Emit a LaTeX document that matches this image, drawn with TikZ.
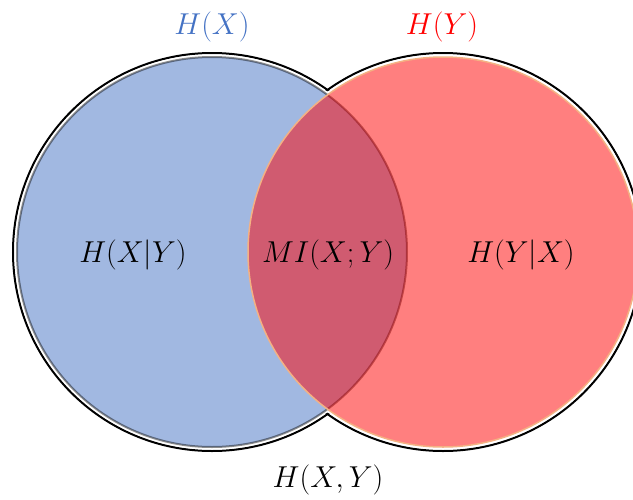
\documentclass[tikz,border=0pt]{standalone}
\definecolor{hxblue}{HTML}{4472C4}
\definecolor{hyorange}{HTML}{F4B183}
\begin{document}
\begin{tikzpicture}[x=1pt,y=-1pt,
  lbl/.style={font=\LARGE, scale=1.75, inner sep=0pt},
  setc/.style={circle, minimum size=390pt, inner sep=0pt}]
\useasboundingbox (0,0) rectangle (633,499);
% outer outline of the union
\node[setc, minimum size=398pt, draw=black, line width=2pt] (ox) at (212,252) {};
\node[setc, minimum size=398pt, draw=black, line width=2pt] (oy) at (443,252) {};
\node[setc, minimum size=395pt, fill=white] (wx) at (212,252) {};
\node[setc, minimum size=395pt, fill=white] (wy) at (443,252) {};
% the two sets
\node[setc, fill=hxblue, fill opacity=0.5, draw=black, draw opacity=0.45, line width=2pt] (bx) at (212,252) {};
\node[setc, fill=red, fill opacity=0.5, draw=hyorange, line width=1.5pt] (by) at (443,252) {};
% labels
\node[lbl, text=hxblue] (thx) at (212,27) {$H(X)$};
\node[lbl, text=red] (thy) at (442,27) {$H(Y)$};
\node[lbl] (thxy) at (133,255) {$H(X|Y)$};
\node[lbl] (tmi) at (328,255) {$MI(X;Y)$};
\node[lbl] (thyx) at (521,255) {$H(Y|X)$};
\node[lbl] (tjoint) at (328,480) {$H(X,Y)$};
\end{tikzpicture}
\end{document}
